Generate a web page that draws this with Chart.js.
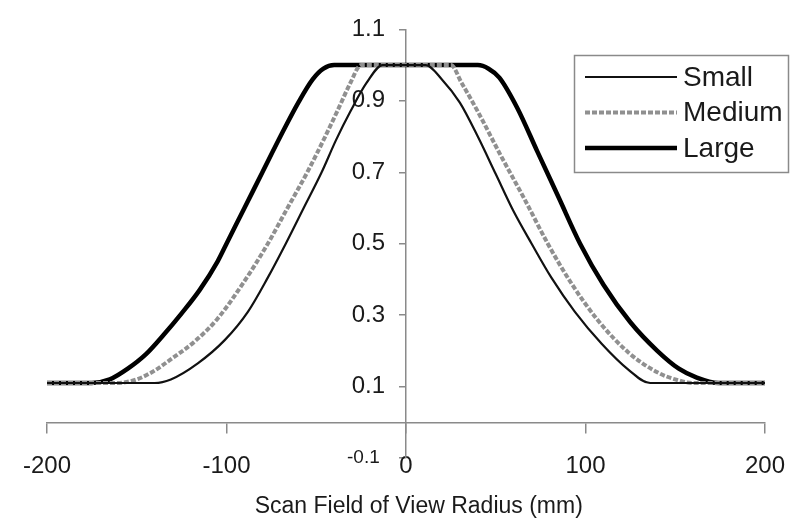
<!DOCTYPE html>
<html>
<head>
<meta charset="utf-8">
<title>Scan Field of View Radius</title>
<script src="https://cdn.jsdelivr.net/npm/chart.js@4"></script>
<style>
    body { margin: 0; background: #fff; overflow: hidden; }
    #wrap { width: 793px; height: 520px; position: relative; }
</style>
</head>
<body>
<div id="wrap"><canvas id="profile-chart"></canvas></div>
<script>
// values (x in mm, y relative)
const seriesNames = ['Small', 'Medium', 'Large'];

const smallX = [-200, -140, -131, -116, -101, -88, -77, -67, -57, -47, -39, -31, -22, -13, 11, 20, 30, 40, 50, 60, 70, 81, 94, 109, 124, 136, 200];
const smallY = [0.11, 0.11, 0.12, 0.165, 0.23, 0.31, 0.405, 0.50, 0.60, 0.70, 0.79, 0.87, 0.95, 1.0, 1.0, 0.96, 0.895, 0.80, 0.695, 0.59, 0.50, 0.405, 0.31, 0.22, 0.147, 0.11, 0.11];

const mediumX = [-200, -162, -150, -140, -130, -118, -105, -90, -77, -66, -55, -45, -37, -31, -25, 25, 31, 40, 53, 66, 79, 92, 107, 124, 140, 150, 160, 200];
const mediumY = [0.11, 0.11, 0.12, 0.145, 0.18, 0.225, 0.29, 0.395, 0.50, 0.60, 0.70, 0.80, 0.885, 0.95, 1.0, 1.0, 0.95, 0.87, 0.745, 0.625, 0.50, 0.39, 0.285, 0.195, 0.14, 0.12, 0.11, 0.11];

const largeX = [-200, -175, -165, -155, -145, -135, -125, -115, -105, -100, -90, -80, -70, -60, -52, -46, -40, 40, 46, 52, 62, 73, 85, 97, 110, 125, 140, 152, 162, 174, 200];
const largeY = [0.11, 0.11, 0.12, 0.15, 0.19, 0.245, 0.305, 0.37, 0.45, 0.50, 0.60, 0.70, 0.80, 0.895, 0.96, 0.99, 1.0, 1.0, 0.99, 0.965, 0.88, 0.76, 0.63, 0.50, 0.385, 0.28, 0.20, 0.15, 0.125, 0.11, 0.11];

const xTicks = [-200, -100, 0, 100, 200];
const yTicks = [-0.1, 0.1, 0.3, 0.5, 0.7, 0.9, 1.1];

const FONT = '"Liberation Sans", Arial, sans-serif';

function toPoints(xs, ys) {
    return xs.map((x, i) => ({ x: x, y: ys[i] }));
}

// legend drawn as a framed box in the upper right, like the original
const boxLegend = {
    id: 'boxLegend',
    afterDraw(chart) {
        const ctx = chart.ctx;
        ctx.save();
        ctx.strokeStyle = '#8a8a8a';
        ctx.lineWidth = 1.5;
        ctx.strokeRect(574.5, 55.5, 214, 117);
        chart.data.datasets.forEach((ds, i) => {
            const y = 77 + i * 35.5;
            ctx.beginPath();
            ctx.setLineDash(ds.borderDash || []);
            ctx.lineWidth = ds.borderWidth;
            ctx.strokeStyle = ds.borderColor;
            ctx.moveTo(585, y);
            ctx.lineTo(677, y);
            ctx.stroke();
            ctx.setLineDash([]);
            ctx.fillStyle = '#1a1a1a';
            ctx.font = '28px ' + FONT;
            ctx.textBaseline = 'middle';
            ctx.textAlign = 'left';
            ctx.fillText(ds.label, 683, y + 1);
        });
        ctx.restore();
    }
};

const ctx = document.getElementById('profile-chart').getContext('2d');

new Chart(ctx, {
    type: 'line',
    data: {
        datasets: [
            {
                label: seriesNames[0],
                data: toPoints(smallX, smallY),
                borderColor: '#111',
                borderWidth: 2.2,
            },
            {
                label: seriesNames[1],
                data: toPoints(mediumX, mediumY),
                borderColor: '#909090',
                borderWidth: 4,
                borderDash: [5, 2],
            },
            {
                label: seriesNames[2],
                data: toPoints(largeX, largeY),
                borderColor: '#000',
                borderWidth: 4.5,
            }
        ]
    },
    options: {
        responsive: true,
        maintainAspectRatio: false,
        animation: false,
        layout: {
            padding: { left: 47, right: 28, top: 22, bottom: 62 }
        },
        elements: {
            point: { radius: 0 },
            line: { cubicInterpolationMode: 'monotone', fill: false }
        },
        plugins: {
            legend: { display: false },
            tooltip: { enabled: false }
        },
        scales: {
            x: {
                type: 'linear',
                position: { y: 0 },
                min: xTicks[0],
                max: xTicks[xTicks.length - 1],
                afterBuildTicks: (axis) => { axis.ticks = xTicks.map(v => ({ value: v })); },
                // the big label padding should not shrink the plot sideways,
                // and the title sits a bit closer to the labels
                afterFit: (axis) => {
                    axis.paddingLeft = 0;
                    axis.paddingRight = 0;
                    axis.height -= 14;
                },
                border: { display: true, color: '#8a8a8a', width: 1.5 },
                grid: { drawOnChartArea: false, drawTicks: true, tickLength: 10, color: '#8a8a8a', lineWidth: 1.5 },
                ticks: {
                    color: '#1a1a1a',
                    padding: 20,
                    maxRotation: 0,
                    font: { family: FONT, size: 24 },
                    callback: (v) => String(v)
                },
                title: {
                    display: true,
                    text: '    Scan Field of View Radius (mm)',
                    color: '#1a1a1a',
                    font: { family: FONT, size: 23 },
                    padding: { top: 6, bottom: 0 }
                }
            },
            y: {
                type: 'linear',
                position: 'center',
                min: yTicks[0],
                max: yTicks[yTicks.length - 1],
                afterBuildTicks: (axis) => { axis.ticks = yTicks.map(v => ({ value: v })); },
                border: { display: true, color: '#8a8a8a', width: 1.5 },
                grid: { drawOnChartArea: false, drawTicks: true, tickLength: 6, color: '#8a8a8a', lineWidth: 1.5 },
                ticks: {
                    color: '#1a1a1a',
                    padding: 15,
                    font: (c) => ({ family: FONT, size: (c.tick && c.tick.value < 0) ? 19 : 24 }),
                    callback: (v) => v < 0 ? Number(v).toFixed(1) + ' ' : Number(v).toFixed(1)
                }
            }
        }
    },
    plugins: [boxLegend]
});
</script>
</body>
</html>
